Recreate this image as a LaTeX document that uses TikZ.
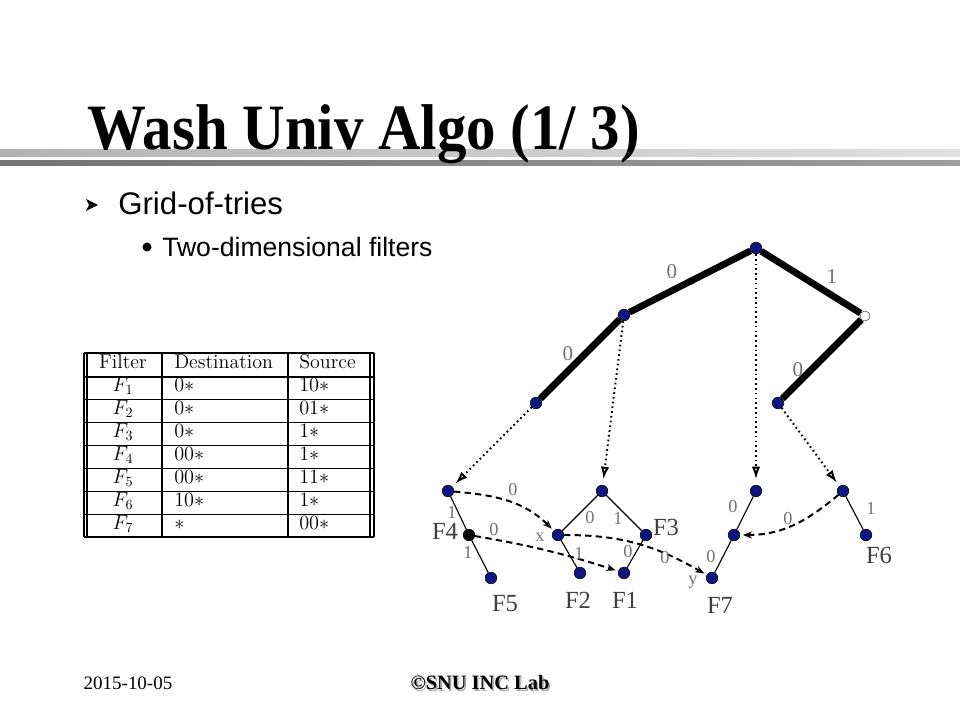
\documentclass[tikz,border=0pt]{standalone}
\usepackage{amsmath}
\usepackage{fontspec}
\usetikzlibrary{calc,arrows.meta}
\newfontfamily\timesfont{Liberation Serif}
\newfontfamily\arialfont{Liberation Sans}
\definecolor{trieblue}{RGB}{14,22,128}
\tikzset{
  trienode/.style={circle,draw=black,fill=trieblue,inner sep=0pt,minimum size=0.29cm},
  blacknode/.style={trienode,fill=black},
  hollownode/.style={trienode,fill=white,draw=black!70,minimum size=0.25cm},
  destedge/.style={line width=4.8pt},
  srcedge/.style={line width=0.8pt},
  jumpptr/.style={line width=1.4pt,dash pattern=on 1.2pt off 2.2pt,-{Latex[open,length=9pt,width=6pt]}},
  switchptr/.style={line width=1.4pt,dash pattern=on 4.5pt off 3pt,-{Stealth[length=6.5pt,width=5pt]}},
  bitlbl/.style={font=\timesfont\fontsize{13}{13}\selectfont,text=black!55,inner sep=0pt},
  topbit/.style={bitlbl,font=\timesfont\fontsize{15}{15}\selectfont},
  filterlbl/.style={font=\timesfont\fontsize{17.5}{17.5}\selectfont,text=black!75,inner sep=0pt},
  cell/.style={font=\fontsize{14.2}{16}\selectfont,inner sep=0pt,text height=1.6ex,text depth=0.45ex}
}
\begin{document}
\begin{tikzpicture}[x=0.025cm,y=-0.025cm]
    \useasboundingbox[fill=white] (0,0) rectangle (960,720);
    % title with the two bars under it
    \shade[left color=black!30,right color=black!12] (0,150) rectangle (960,157);
    \shade[left color=black!55,middle color=black!25,right color=black!38] (0,161) rectangle (960,166);
    \node[anchor=base west,inner sep=0pt] (title) at (87,150)
      {\timesfont\bfseries\fontsize{46}{46}\selectfont\scalebox{0.91}[1]{Wash Univ Algo (1/ 3)}};
    % bullets
    \fill (86,199) -- (98,205) -- (86,211) -- (89,205) -- cycle;
    \node[anchor=west,inner sep=0pt,font=\arialfont\fontsize{22.2}{22.2}\selectfont] (lvlone) at (118,203) {Grid-of-tries};
    \fill (147,247) circle (4.5);
    \node[anchor=west,inner sep=0pt,font=\arialfont\fontsize{18.9}{18.9}\selectfont] (lvltwo) at (162,247) {Two-dimensional filters};
    % table of filters
    \draw[line width=0.9pt] (84,353) -- (374,353);
    \foreach \i in {0,...,7}{% header line and one line under each row
      \draw[line width=0.9pt] (84,{377+22.86*\i}) -- (374,{377+22.86*\i});
    }
    \foreach \xx in {84,87,162,288,370,374}{
      \draw[line width=0.9pt] (\xx,353) -- (\xx,537);
    }
    \node[cell] (hfilter) at (123,365) {Filter};
    \node[cell,anchor=west] (hdest) at (174,365) {Destination};
    \node[cell,anchor=west] (hsrc) at (299,365) {Source};
    \foreach \f/\d/\s [count=\i] in {1/0/10,2/0/01,3/0/1,4/00/1,5/00/11,6/10/1,7//00}{
      \node[cell] (f\i) at (123,{377+22.86*(\i-0.5)}) {$F_{\f}$};
      \node[cell,anchor=west] (d\i) at (174,{377+22.86*(\i-0.5)}) {$\d*$};
      \node[cell,anchor=west] (s\i) at (299,{377+22.86*(\i-0.5)}) {$\s*$};
    }
    % destination trie
    \node[trienode] (root) at (756,248) {};
    \node[trienode] (dzero) at (624,315) {};
    \node[hollownode] (done) at (865,316) {};
    \node[trienode] (dzz) at (536,403) {};
    \node[trienode] (doz) at (778,403) {};
    \draw[destedge] (dzz) -- (dzero) -- (root) -- (done) -- (doz);
    \node[topbit] (bra) at (672,272) {0};
    \node[topbit] (brb) at (832,277) {1};
    \node[topbit] (bac) at (568,354) {0};
    \node[topbit] (bbd) at (798,370) {0};
    % source tries
    \node[trienode] (pa) at (448,491) {};
    \node[blacknode] (pb) at (469,535) {};
    \node[trienode] (pc) at (491,578) {};
    \node[trienode] (qa) at (602,491) {};
    \node[trienode] (qx) at (558,535) {};
    \node[trienode] (qb) at (646,535) {};
    \node[trienode] (qc) at (580,573) {};
    \node[trienode] (qd) at (624,573) {};
    \node[trienode] (ra) at (756,491) {};
    \node[trienode] (rb) at (734,535) {};
    \node[trienode] (ry) at (712,578) {};
    \node[trienode] (ta) at (843,491) {};
    \node[trienode] (tb) at (866,535) {};
    \draw[srcedge] (pa) -- (pb) -- (pc);
    \draw[srcedge] (qc) -- (qx) -- (qa) -- (qb) -- (qd);
    \draw[srcedge] (ra) -- (rb) -- (ry);
    \draw[srcedge] (ta) -- (tb);
    % pointers from the destination trie
    \draw[jumpptr,shorten >=3pt] (dzz) -- (pa);
    \draw[jumpptr,shorten >=4pt] (dzero) -- (qa);
    \draw[jumpptr,shorten >=4pt] (root) -- (ra);
    \draw[jumpptr,shorten >=3pt] (doz) -- (ta);
    % switch pointers
    \draw[switchptr,shorten >=2pt] (pa) to[out=-5,in=135] (qx);
    \draw[switchptr,shorten >=2pt] (pb) to[bend left=4] (qd);
    \draw[switchptr,shorten >=2pt] (qx) to[out=0,in=150] (ry);
    \draw[switchptr,shorten >=2pt] (ta) to[out=-140,in=0] (rb);
    % bit labels
    \node[bitlbl] (lpa) at (452,512) {1};
    \node[bitlbl] (lpb) at (468,552) {1};
    \node[bitlbl] (lsa) at (513,490) {0};
    \node[bitlbl] (lsb) at (494,530) {0};
    \node[bitlbl] (lqa) at (590,518) {0};
    \node[bitlbl] (lqb) at (618,518) {1};
    \node[bitlbl] (lqc) at (579,553) {1};
    \node[bitlbl] (lqd) at (628,552) {0};
    \node[bitlbl] (lsc) at (665,558) {0};
    \node[bitlbl] (lra) at (733,507) {0};
    \node[bitlbl] (lrb) at (711,557) {0};
    \node[bitlbl] (lta) at (871,508) {1};
    \node[bitlbl] (lsd) at (788,519) {0};
    \node[bitlbl] (lx) at (540,537) {x};
    \node[bitlbl] (ly) at (693,582) {y};
    % filter labels
    \node[filterlbl] (ffour) at (445,531) {F4};
    \node[filterlbl] (ffive) at (505,604) {F5};
    \node[filterlbl] (ftwo) at (578,600) {F2};
    \node[filterlbl] (fone) at (625,600) {F1};
    \node[filterlbl] (fthree) at (666,527) {F3};
    \node[filterlbl] (fseven) at (720,605) {F7};
    \node[filterlbl] (fsix) at (879,555) {F6};
    % footer
    \node[font=\timesfont\fontsize{13.5}{13.5}\selectfont,inner sep=0pt] (date) at (128,683) {2015-10-05};
    \node[font=\timesfont\bfseries\fontsize{14.5}{14.5}\selectfont,text=black!35,inner sep=0pt] (labshadow) at (481.5,684.5) {©SNU INC Lab};
    \node[font=\timesfont\bfseries\fontsize{14.5}{14.5}\selectfont,inner sep=0pt] (lab) at (480,683) {©SNU INC Lab};
\end{tikzpicture}
\end{document}
